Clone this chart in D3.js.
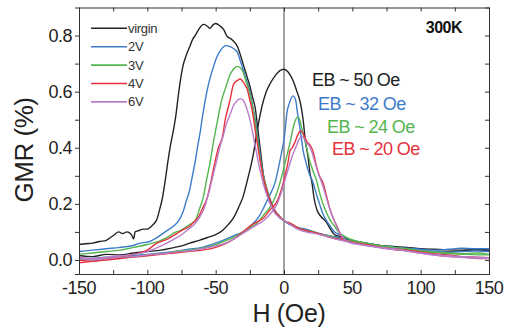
<!DOCTYPE html>
<html><head><meta charset="utf-8">
<script src="https://cdn.jsdelivr.net/npm/d3@7"></script>
<style>
html,body{margin:0;padding:0;background:#fff;}
svg{display:block;font-family:"Liberation Sans",Arial,sans-serif;}
</style></head>
<body>
<svg id="c" width="506" height="329"></svg>
<script>
// ---------------- data ----------------
const seriesNames = ["virgin","2V","3V","4V","6V"];
const seriesColors = ["#222222","#3d7cc9","#55b54f","#e6323d","#b87cc8"];
const xTickValues = [-150,-100,-50,0,50,100,150];
const yTickValues = [0.0,0.2,0.4,0.6,0.8];
const ebLabels = ["EB ~ 50 Oe","EB ~ 32 Oe","EB ~ 24 Oe","EB ~ 20 Oe"];
const ebColors = ["#222222","#3d7cc9","#55b54f","#e6323d"];
const tempLabel = "300K";

// [H (Oe), GMR (%)] — left-peak branch (down) and right-peak branch (up)
const virginDown = [[-150,0.055],[-145,0.058],[-140,0.06],[-135,0.066],[-130,0.07],[-127,0.08],[-124,0.09],[-121,0.1],[-118,0.094],[-115,0.1],[-112,0.093],[-110,0.075],[-109,0.1],[-106,0.105],[-103,0.11],[-100,0.11],[-97,0.12],[-95,0.13],[-93,0.145],[-91,0.18],[-89,0.22],[-87,0.28],[-85,0.35],[-83,0.41],[-81,0.46],[-79,0.52],[-77.5,0.58],[-75.5,0.65],[-74,0.69],[-71.5,0.73],[-69,0.76],[-67,0.785],[-65,0.80],[-62,0.825],[-59,0.84],[-56.5,0.835],[-54,0.826],[-52,0.838],[-50,0.843],[-47,0.835],[-44,0.82],[-42,0.80],[-38,0.785],[-34,0.76],[-30,0.70],[-27.5,0.66],[-25,0.62],[-23,0.58],[-21,0.54],[-19,0.46],[-17,0.38],[-15,0.3],[-12,0.23],[-8,0.18],[-4,0.155],[0,0.14],[5,0.125],[10,0.115],[16,0.105],[22,0.098],[28,0.09],[34,0.085],[40,0.078],[46,0.072],[52,0.065],[60,0.06],[70,0.052],[80,0.048],[90,0.045],[100,0.04],[110,0.038],[120,0.036],[130,0.035],[140,0.036],[150,0.034]];
const virginUp = [[-150,0.015],[-140,0.012],[-130,0.02],[-120,0.018],[-110,0.025],[-100,0.03],[-90,0.035],[-80,0.045],[-75,0.05],[-69,0.06],[-62,0.07],[-56,0.08],[-50,0.09],[-44.6,0.107],[-41,0.125],[-37,0.15],[-33,0.19],[-30,0.225],[-27,0.28],[-24.5,0.33],[-22.7,0.37],[-20,0.45],[-16,0.55],[-13,0.6],[-10,0.63],[-6,0.66],[-3,0.675],[0,0.68],[3,0.67],[6.6,0.64],[9.5,0.6],[12,0.56],[14,0.5],[15.5,0.43],[17.5,0.37],[19,0.31],[20.5,0.275],[22,0.22],[24,0.18],[27,0.155],[31,0.135],[34,0.11],[37,0.09],[40,0.085],[44,0.078],[48,0.07],[55,0.062],[65,0.055],[75,0.048],[85,0.04],[95,0.035],[105,0.03],[115,0.028],[125,0.03],[135,0.035],[145,0.038],[150,0.035]];

const v2Down = [[-150,0.03],[-140,0.035],[-130,0.04],[-120,0.045],[-112,0.05],[-105,0.06],[-99,0.065],[-93,0.08],[-87,0.1],[-81,0.12],[-77,0.14],[-74,0.17],[-71.5,0.21],[-69,0.25],[-67,0.3],[-65,0.35],[-63,0.41],[-61.5,0.45],[-60,0.5],[-58,0.56],[-56,0.61],[-54,0.65],[-51.5,0.69],[-49,0.725],[-46,0.75],[-42.5,0.764],[-39,0.76],[-36,0.75],[-34,0.74],[-32,0.71],[-30,0.68],[-27.5,0.64],[-25,0.6],[-23,0.55],[-21,0.5],[-19,0.43],[-17,0.36],[-14.5,0.29],[-11,0.23],[-7,0.18],[-3,0.155],[0,0.14],[5,0.125],[10,0.115],[16,0.11],[22,0.1],[28,0.092],[34,0.085],[40,0.08],[46,0.07],[52,0.066],[60,0.06],[70,0.05],[80,0.045],[90,0.042],[100,0.038],[110,0.035],[120,0.038],[130,0.042],[140,0.04],[150,0.04]];
const v2Up = [[-150,0.0],[-140,0.005],[-130,0.01],[-120,0.008],[-110,0.015],[-100,0.02],[-90,0.025],[-80,0.03],[-70,0.038],[-60,0.045],[-50,0.06],[-42,0.075],[-35,0.09],[-30,0.1],[-25,0.12],[-19,0.15],[-15.5,0.18],[-12.5,0.21],[-9.5,0.24],[-6.6,0.275],[-4,0.33],[-1.5,0.39],[0,0.43],[1,0.47],[2,0.52],[4,0.56],[6.6,0.585],[8.5,0.57],[10,0.52],[12,0.46],[14,0.39],[16.5,0.34],[19,0.3],[21,0.28],[24,0.23],[26,0.2],[28,0.17],[31,0.14],[34,0.12],[37,0.1],[41,0.09],[45,0.08],[50,0.07],[58,0.062],[68,0.052],[78,0.046],[90,0.04],[100,0.035],[110,0.03],[120,0.028],[130,0.03],[140,0.032],[150,0.03]];

const v3Down = [[-150,0.02],[-140,0.025],[-130,0.03],[-120,0.035],[-110,0.045],[-100,0.055],[-90,0.07],[-84,0.085],[-81,0.096],[-76,0.105],[-71,0.12],[-68,0.13],[-65,0.14],[-62,0.18],[-59,0.225],[-56.5,0.29],[-54,0.35],[-52,0.41],[-50.5,0.45],[-48.5,0.5],[-47,0.54],[-45,0.58],[-43,0.61],[-41,0.64],[-39.5,0.66],[-37,0.68],[-34.5,0.69],[-32,0.685],[-30,0.67],[-28,0.64],[-26,0.61],[-24,0.57],[-22,0.52],[-20,0.45],[-18,0.38],[-16,0.32],[-13,0.26],[-10,0.21],[-6,0.17],[-2,0.15],[0,0.14],[5,0.13],[10,0.115],[16,0.105],[22,0.1],[28,0.09],[34,0.085],[40,0.075],[46,0.07],[52,0.065],[60,0.058],[70,0.05],[80,0.042],[90,0.04],[100,0.032],[110,0.028],[120,0.025],[130,0.022],[140,0.025],[150,0.02]];
const v3Up = [[-150,0.005],[-140,0.0],[-130,0.008],[-120,0.01],[-110,0.012],[-100,0.018],[-90,0.022],[-80,0.03],[-70,0.035],[-60,0.042],[-50,0.055],[-42,0.07],[-35,0.085],[-30,0.1],[-25,0.115],[-20,0.13],[-15,0.16],[-10,0.19],[-6,0.23],[-3,0.275],[0,0.33],[2,0.37],[3,0.39],[5,0.43],[6.6,0.47],[8.5,0.5],[10,0.51],[11.5,0.5],[13,0.47],[15,0.43],[17,0.39],[19,0.35],[21,0.32],[24,0.28],[26,0.24],[28.5,0.2],[31,0.17],[34,0.14],[37,0.12],[40,0.1],[44,0.085],[48,0.075],[55,0.065],[65,0.055],[75,0.048],[85,0.042],[95,0.035],[105,0.03],[115,0.025],[125,0.022],[135,0.02],[145,0.018],[150,0.018]];

const v4Down = [[-150,0.0],[-140,-0.005],[-130,0.005],[-120,0.01],[-110,0.02],[-100,0.035],[-93,0.06],[-85,0.075],[-78,0.096],[-73,0.11],[-69,0.12],[-66,0.135],[-63,0.15],[-60,0.18],[-56,0.225],[-53,0.29],[-50.5,0.35],[-48,0.4],[-45,0.44],[-43,0.5],[-41,0.54],[-39.5,0.57],[-37,0.625],[-34,0.64],[-32,0.645],[-30,0.635],[-28,0.62],[-27,0.61],[-25,0.57],[-23.5,0.54],[-21,0.46],[-19,0.4],[-17,0.34],[-14,0.27],[-10,0.21],[-6,0.17],[-2,0.15],[0,0.14],[5,0.13],[10,0.115],[16,0.105],[22,0.098],[28,0.09],[34,0.08],[40,0.074],[46,0.068],[52,0.062],[60,0.055],[70,0.045],[80,0.04],[90,0.035],[100,0.028],[110,0.022],[120,0.018],[130,0.012],[140,0.01],[150,0.008]];
const v4Up = [[-150,-0.01],[-140,-0.005],[-130,0.0],[-120,0.005],[-110,0.01],[-100,0.015],[-90,0.02],[-80,0.025],[-70,0.03],[-60,0.035],[-50,0.045],[-42,0.06],[-35,0.08],[-30,0.1],[-25,0.12],[-20,0.135],[-15,0.15],[-10,0.18],[-5,0.21],[-2,0.25],[0.7,0.3],[3,0.35],[4.4,0.39],[6,0.4],[8,0.42],[10,0.445],[12,0.46],[13.5,0.455],[15,0.44],[17,0.42],[19,0.41],[21,0.39],[24,0.33],[26,0.3],[28.5,0.275],[31,0.23],[33.7,0.18],[36,0.15],[38.8,0.12],[41,0.095],[43,0.07],[48,0.065],[55,0.058],[65,0.05],[75,0.042],[85,0.035],[95,0.03],[105,0.022],[115,0.015],[125,0.012],[135,0.008],[145,0.005],[150,0.005]];

const v6Down = [[-150,0.01],[-140,0.005],[-130,0.01],[-120,0.015],[-110,0.02],[-100,0.03],[-90,0.05],[-82,0.07],[-75,0.09],[-70,0.11],[-66,0.125],[-62,0.15],[-58,0.19],[-55,0.24],[-52,0.3],[-49,0.36],[-46.5,0.41],[-44.6,0.44],[-42.5,0.48],[-41,0.5],[-39,0.525],[-37,0.55],[-34.5,0.567],[-32,0.575],[-30,0.57],[-28,0.55],[-26,0.52],[-24,0.48],[-22,0.43],[-20,0.38],[-18,0.33],[-15,0.27],[-11,0.21],[-7,0.17],[-3,0.15],[0,0.14],[5,0.125],[10,0.11],[16,0.1],[22,0.095],[28,0.088],[34,0.08],[40,0.072],[46,0.066],[52,0.06],[60,0.052],[70,0.045],[80,0.04],[90,0.032],[100,0.025],[110,0.02],[120,0.015],[130,0.012],[140,0.01],[150,0.008]];
const v6Up = [[-150,0.005],[-140,0.0],[-130,0.005],[-120,0.01],[-110,0.012],[-100,0.018],[-90,0.022],[-80,0.028],[-70,0.032],[-60,0.04],[-50,0.05],[-42,0.062],[-35,0.08],[-30,0.095],[-25,0.11],[-20,0.125],[-15,0.14],[-10,0.165],[-5,0.2],[-2,0.24],[1,0.29],[3.5,0.33],[6,0.37],[8.5,0.4],[11,0.43],[13,0.44],[14.5,0.435],[16,0.42],[18,0.41],[20,0.39],[22.5,0.35],[25,0.31],[28,0.27],[30.5,0.23],[33,0.19],[36,0.15],[38.5,0.12],[41,0.095],[44,0.075],[48,0.062],[55,0.055],[65,0.048],[75,0.04],[85,0.035],[95,0.028],[105,0.02],[115,0.015],[125,0.01],[135,0.008],[145,0.006],[150,0.006]];

const seriesData = [[virginDown,virginUp],[v2Down,v2Up],[v3Down,v3Up],[v4Down,v4Up],[v6Down,v6Up]];

// ---------------- drawing ----------------
const svg = d3.select("#c");
const L=79, R=489, T=7.5, B=274;
const x = d3.scaleLinear().domain([-150,150]).range([L,R]);
const y = d3.scaleLinear().domain([-0.05,0.9]).range([B,T]);

svg.append("defs").append("clipPath").attr("id","clip")
  .append("rect").attr("x",L).attr("y",T).attr("width",R-L).attr("height",B-T);

const line = d3.line().x(d=>x(d[0])).y(d=>y(d[1])).curve(d3.curveMonotoneX);
const gLines = svg.append("g").attr("clip-path","url(#clip)");

// zero field line
gLines.append("line").attr("x1",x(0)).attr("x2",x(0)).attr("y1",T).attr("y2",B)
  .attr("stroke","#444").attr("stroke-width",1);

seriesData.forEach((branches,i)=>{
  branches.forEach(b=>{
    gLines.append("path").datum(b).attr("d",line)
      .attr("fill","none").attr("stroke",seriesColors[i])
      .attr("stroke-width",1.4).attr("stroke-linejoin","round");
  });
});

// axes
const tickFont = 18;
const axB = svg.append("g").attr("transform",`translate(0,${B})`)
  .call(d3.axisBottom(x).tickValues(d3.range(-150,151,25)).tickSize(-4).tickFormat(""));
const axT = svg.append("g").attr("transform",`translate(0,${T})`)
  .call(d3.axisTop(x).tickValues(d3.range(-150,151,25)).tickSize(-4).tickFormat(""));
const axL = svg.append("g").attr("transform",`translate(${L},0)`)
  .call(d3.axisLeft(y).tickValues(d3.range(0,0.81,0.1)).tickSize(4).tickFormat(""));
const axR = svg.append("g").attr("transform",`translate(${R},0)`)
  .call(d3.axisRight(y).tickValues(d3.range(0,0.81,0.1)).tickSize(-4).tickFormat(""));
[axB,axT,axL,axR].forEach(a=>{
  a.select(".domain").attr("stroke","#333").attr("stroke-width",1);
  a.selectAll(".tick line").attr("stroke","#333");
});

// tick labels
svg.append("g").selectAll("text").data(xTickValues).join("text")
  .attr("x",d=>x(d)).attr("y",294).attr("text-anchor","middle")
  .attr("font-size",tickFont).attr("letter-spacing","-0.5").attr("fill","#222")
  .text(d=>d);
svg.append("g").selectAll("text").data(yTickValues).join("text")
  .attr("x",72).attr("y",d=>y(d)).attr("dy","0.35em").attr("text-anchor","end")
  .attr("font-size",tickFont).attr("letter-spacing","-0.5").attr("fill","#222")
  .text(d=>d.toFixed(1));

// axis titles
svg.append("text").attr("x",289).attr("y",322).attr("text-anchor","middle")
  .attr("font-size",25).attr("letter-spacing","-0.3").attr("fill","#222").text("H (Oe)");
svg.append("text").attr("transform","translate(33,150) rotate(-90)").attr("text-anchor","middle")
  .attr("font-size",26).attr("letter-spacing","-0.5").attr("fill","#222").text("GMR (%)");

// legend
const legY0 = 28.3, legDy = 18.4;
const leg = svg.append("g");
seriesNames.forEach((n,i)=>{
  const yy = legY0 + i*legDy;
  leg.append("line").attr("x1",91).attr("x2",127).attr("y1",yy).attr("y2",yy)
    .attr("stroke",seriesColors[i]).attr("stroke-width",1.6);
  leg.append("text").attr("x",128).attr("y",yy+4.5).attr("font-size",13)
    .attr("letter-spacing","-0.3").attr("fill","#333").text(n);
});

// annotations
svg.append("text").attr("x",462).attr("y",33).attr("text-anchor","end")
  .attr("font-size",16).attr("font-weight","bold").attr("letter-spacing","-0.5")
  .attr("fill","#111").text(tempLabel);
const ebX = [312,318,327,332], ebY = [86,110,133,155];
ebLabels.forEach((t,i)=>{
  svg.append("text").attr("x",ebX[i]).attr("y",ebY[i]).attr("font-size",18)
    .attr("letter-spacing","-0.6").attr("fill",ebColors[i]).text(t);
});
</script>
</body></html>
